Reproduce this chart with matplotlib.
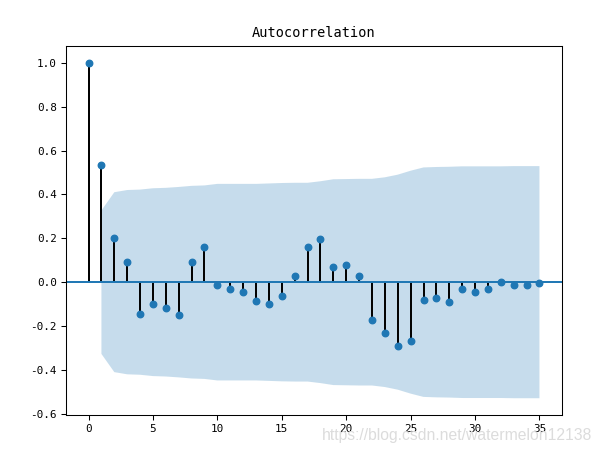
import matplotlib
matplotlib.use('Agg')
import matplotlib.pyplot as plt
import numpy as np

plt.rcParams['axes.unicode_minus'] = False

# valeurs (lags 0..35)
lags = np.arange(36)
acf = [1.0, 0.535, 0.203, 0.091, -0.147, -0.101, -0.120, -0.151, 0.091, 0.162,
       -0.015, -0.033, -0.047, -0.088, -0.101, -0.065, 0.026, 0.162, 0.199, 0.067,
       0.076, 0.030, -0.173, -0.233, -0.292, -0.270, -0.082, -0.074, -0.092, -0.033,
       -0.047, -0.029, 0.000, -0.011, -0.011, -0.006]
# demi-largeur de l'intervalle de confiance (lags 1..35)
band = [0.327, 0.410, 0.420, 0.422, 0.428, 0.430, 0.434, 0.439, 0.441, 0.448,
        0.448, 0.448, 0.448, 0.450, 0.452, 0.453, 0.453, 0.460, 0.469, 0.470,
        0.471, 0.471, 0.478, 0.490, 0.508, 0.523, 0.525, 0.526, 0.528, 0.528,
        0.528, 0.528, 0.529, 0.529, 0.529]

acf = np.array(acf)
band = np.array(band)

fig = plt.figure(figsize=(6.4, 4.8))
ax = fig.add_axes([66/604, 1-415/453, (562-66)/604, (415-46)/453])

ax.vlines(lags, [0], acf, colors='black', linewidth=1.5)
ax.axhline(0, color='C0')
ax.margins(0.05)
ax.plot(lags, acf, marker='o', markersize=5, linestyle='None', color='C0')
ax.fill_between(lags[1:], -band, band, alpha=0.25, linewidth=0)

mono = 'DejaVu Sans Mono'
ax.set_title('Autocorrelation', fontfamily=mono, fontsize=10.4, pad=7)
for lab in ax.get_xticklabels() + ax.get_yticklabels():
    lab.set_fontfamily(mono)
    lab.set_fontsize(8.4)

fig.text(322/604, 1-440/453, 'https://blog.csdn.net/watermelon12138',
         fontfamily='Liberation Sans', fontsize=12, color='#dcdcdc', va='baseline')

plt.savefig('out.png', dpi=604/6.4)
